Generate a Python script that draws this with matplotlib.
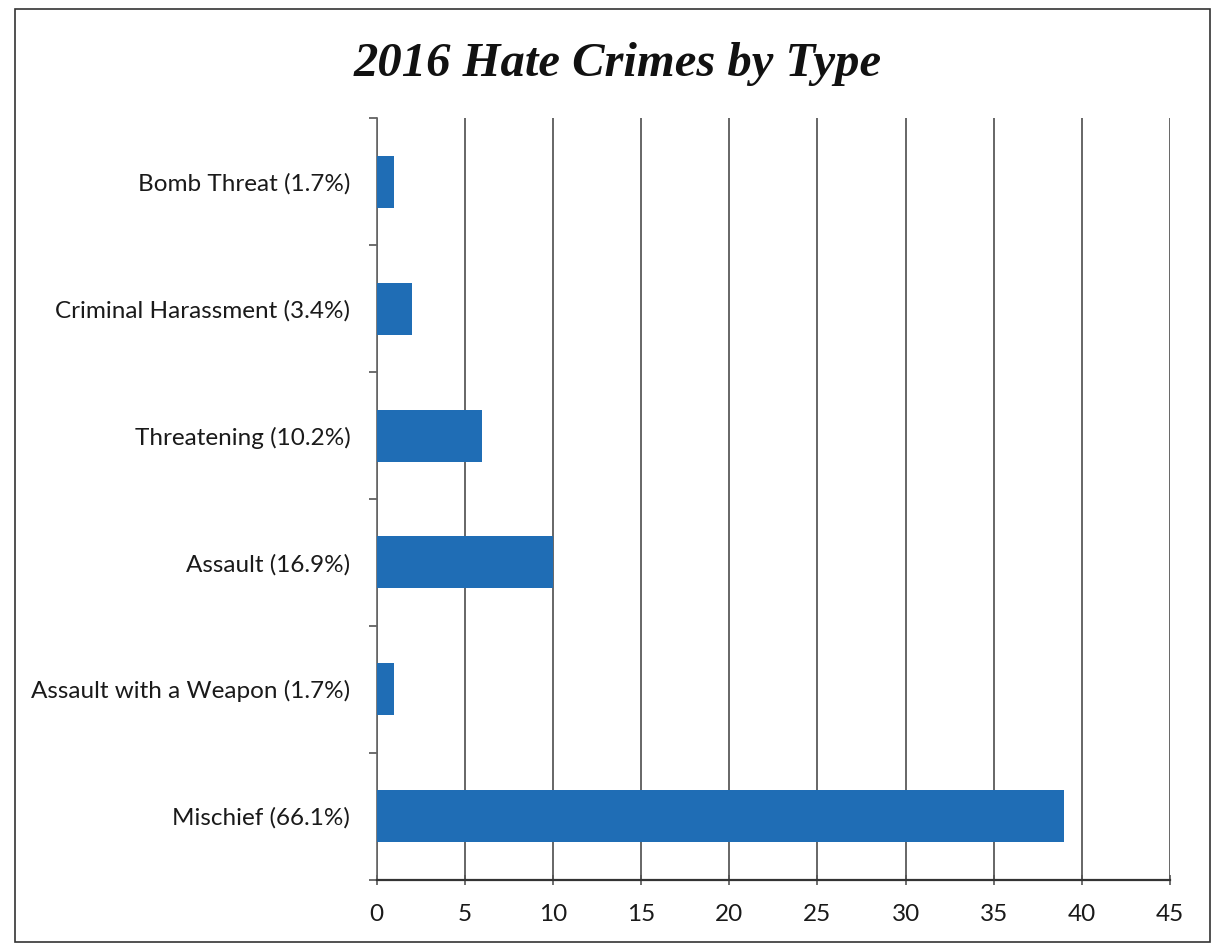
import matplotlib.pyplot as plt
from matplotlib.patches import Rectangle
import numpy as np

# Datos: número de crímenes de odio por tipo (2016)
categorias = [
    "Mischief (66.1%)",
    "Assault with a Weapon (1.7%)",
    "Assault (16.9%)",
    "Threatening (10.2%)",
    "Criminal Harassment (3.4%)",
    "Bomb Threat (1.7%)",
]
casos = [39, 1, 10, 6, 2, 1]
marcas_x = [0, 5, 10, 15, 20, 25, 30, 35, 40, 45]

fig = plt.figure(figsize=(12.15, 9.46), dpi=100)
ax = fig.add_axes([0.310, 0.070, 0.653, 0.805])

pos = np.arange(len(categorias))
ax.barh(pos, casos, height=0.41, color="#1f6db5", zorder=3)

ax.set_xlim(0, 45)
ax.set_ylim(-0.5, len(categorias) - 0.5)
ax.set_xticks(marcas_x)
ax.set_xticklabels([str(v) for v in marcas_x], fontsize=17.5, family="Lato", color="#1a1a1a")
ax.set_yticks(pos)
ax.set_yticklabels(categorias, fontsize=17.5, family="Lato", color="#1a1a1a")
ax.set_yticks(np.arange(-0.5, len(categorias)), minor=True)

# Ticks: etiquetas sin marca, marcas menores en los límites de categoría
ax.tick_params(axis="y", which="major", length=0, pad=19)
ax.tick_params(axis="y", which="minor", length=6, width=1.2, color="#555555")
ax.tick_params(axis="x", length=7, width=1.2, color="#555555", direction="inout", pad=14)

ax.grid(axis="x", color="#5a5a5a", linewidth=1.3, zorder=0)
for lado in ["top", "right"]:
    ax.spines[lado].set_visible(False)
ax.spines["left"].set_color("#666666")
ax.spines["bottom"].set_color("#333333")
ax.spines["left"].set_linewidth(1.2)
ax.spines["bottom"].set_linewidth(1.6)

fig.text(0.508, 0.932, "2016 Hate Crimes by Type", ha="center", va="center",
         fontsize=35, family="Liberation Serif", weight="bold", style="italic",
         color="#111111")

# Marco exterior del gráfico
fig.patches.append(Rectangle((0.012, 0.004), 0.984, 0.986, transform=fig.transFigure,
                             fill=False, edgecolor="#333333", linewidth=1.2))

fig.savefig("out.png", dpi=100, facecolor="white")
